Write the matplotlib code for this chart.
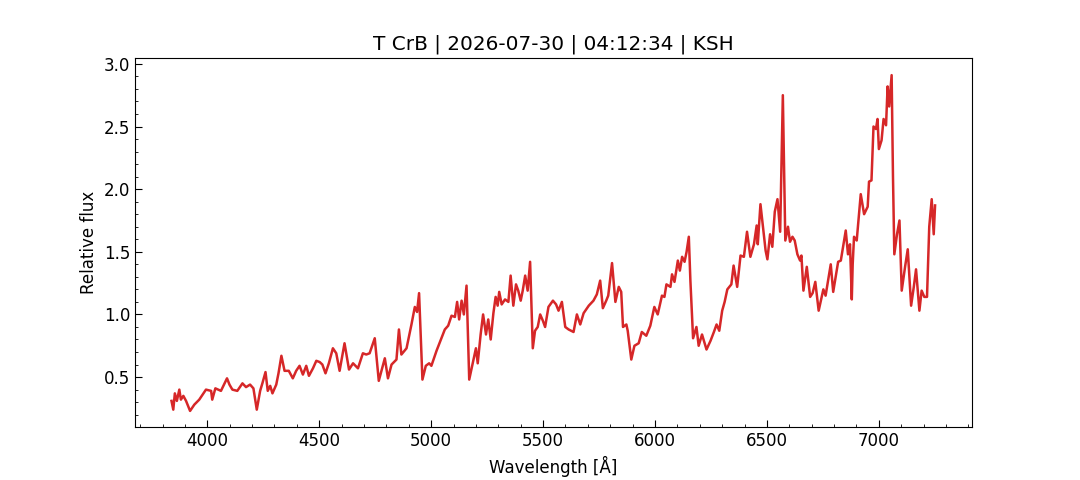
import matplotlib
matplotlib.use("Agg")
import matplotlib.pyplot as plt
from matplotlib.ticker import MultipleLocator

# Spectrum (wavelength in Angstrom, relative flux)
wavelength = [
    3840, 3848, 3855, 3864, 3875, 3882, 3893, 3905, 3923, 3942,
    3964, 3994, 4017, 4022, 4036, 4061, 4088, 4099, 4112, 4134,
    4157, 4173, 4191, 4206, 4221, 4236, 4246, 4260, 4270, 4281,
    4291, 4308, 4318, 4331, 4345, 4364, 4382, 4397, 4412, 4427,
    4442, 4454, 4472, 4487, 4502, 4514, 4528, 4543, 4561, 4576,
    4591, 4613, 4633, 4651, 4673, 4695, 4710, 4725, 4748, 4766,
    4778, 4793, 4807, 4823, 4845, 4856, 4867, 4890, 4912, 4927,
    4937, 4946, 4961, 4976, 4991, 5001, 5024, 5046, 5061, 5076,
    5091, 5106, 5116, 5125, 5136, 5146, 5158, 5170, 5188, 5200,
    5208, 5221, 5232, 5245, 5255, 5266, 5278, 5288, 5297, 5304,
    5315, 5330, 5345, 5355, 5367, 5379, 5389, 5400, 5409, 5420,
    5431, 5442, 5454, 5464, 5476, 5487, 5499, 5509, 5524, 5544,
    5558, 5569, 5584, 5599, 5614, 5636, 5651, 5666, 5681, 5704,
    5725, 5740, 5755, 5767, 5782, 5791, 5808, 5823, 5838, 5849,
    5857, 5872, 5878, 5894, 5908, 5927, 5941, 5961, 5979, 5997,
    6012, 6031, 6042, 6051, 6069, 6076, 6087, 6102, 6111, 6121,
    6132, 6141, 6151, 6158, 6170, 6185, 6195, 6210, 6230, 6248,
    6263, 6275, 6287, 6300, 6311, 6323, 6341, 6351, 6367, 6382,
    6397, 6411, 6426, 6442, 6454, 6459, 6471, 6479, 6494, 6502,
    6514, 6524, 6535, 6547, 6559, 6565, 6571, 6577, 6582, 6594,
    6603, 6614, 6624, 6636, 6648, 6654, 6663, 6678, 6693, 6704,
    6716, 6731, 6752, 6762, 6785, 6796, 6818, 6830, 6852, 6862,
    6871, 6876, 6879, 6883, 6889, 6901, 6919, 6934, 6950, 6956,
    6967, 6976, 6987, 6994, 7000, 7012, 7021, 7032, 7039, 7046,
    7057, 7063, 7069, 7081, 7092, 7102, 7117, 7129, 7144, 7156,
    7166, 7181, 7191, 7203, 7215, 7225, 7236, 7245, 7251,
]
flux = [
    0.31, 0.24, 0.37, 0.31, 0.40, 0.32, 0.35, 0.31, 0.23, 0.28,
    0.32, 0.40, 0.39, 0.32, 0.41, 0.39, 0.49, 0.44, 0.40, 0.39,
    0.45, 0.42, 0.44, 0.41, 0.24, 0.39, 0.45, 0.54, 0.39, 0.43,
    0.37, 0.44, 0.53, 0.67, 0.55, 0.55, 0.49, 0.55, 0.59, 0.52,
    0.59, 0.51, 0.57, 0.63, 0.62, 0.60, 0.53, 0.61, 0.73, 0.69,
    0.55, 0.77, 0.56, 0.61, 0.57, 0.69, 0.68, 0.69, 0.81, 0.47,
    0.55, 0.65, 0.49, 0.60, 0.64, 0.88, 0.68, 0.73, 0.92, 1.06,
    1.02, 1.17, 0.48, 0.59, 0.61, 0.59, 0.71, 0.81, 0.88, 0.91,
    0.99, 0.98, 1.10, 0.96, 1.11, 1.00, 1.23, 0.48, 0.63, 0.73,
    0.61, 0.84, 1.00, 0.84, 0.96, 0.80, 1.01, 1.14, 1.07, 1.18,
    1.08, 1.12, 1.10, 1.31, 1.07, 1.24, 1.19, 1.11, 1.19, 1.31,
    1.19, 1.42, 0.73, 0.87, 0.90, 1.00, 0.95, 0.90, 1.06, 1.11,
    1.08, 1.03, 1.10, 0.90, 0.88, 0.86, 1.00, 0.92, 1.01, 1.07,
    1.11, 1.16, 1.27, 1.05, 1.11, 1.15, 1.41, 1.10, 1.22, 1.18,
    0.90, 0.92, 0.87, 0.64, 0.75, 0.77, 0.86, 0.83, 0.91, 1.06,
    1.00, 1.15, 1.14, 1.24, 1.22, 1.32, 1.26, 1.43, 1.35, 1.46,
    1.42, 1.50, 1.62, 1.27, 0.81, 0.90, 0.75, 0.84, 0.72, 0.79,
    0.86, 0.92, 0.87, 1.03, 1.10, 1.20, 1.24, 1.39, 1.22, 1.47,
    1.46, 1.66, 1.46, 1.56, 1.71, 1.56, 1.88, 1.75, 1.51, 1.44,
    1.64, 1.54, 1.82, 1.92, 1.66, 2.20, 2.75, 2.10, 1.59, 1.70,
    1.58, 1.62, 1.59, 1.48, 1.43, 1.47, 1.19, 1.38, 1.14, 1.17,
    1.26, 1.03, 1.20, 1.15, 1.40, 1.18, 1.42, 1.43, 1.67, 1.48,
    1.56, 1.30, 1.12, 1.40, 1.62, 1.59, 1.96, 1.80, 1.86, 2.06,
    2.07, 2.50, 2.48, 2.56, 2.32, 2.39, 2.56, 2.51, 2.82, 2.66,
    2.91, 2.10, 1.48, 1.64, 1.75, 1.19, 1.38, 1.52, 1.07, 1.22,
    1.36, 1.03, 1.19, 1.14, 1.14, 1.70, 1.92, 1.64, 1.87,
]

title = "T CrB | 2026-07-30 | 04:12:34 | KSH"

fig, ax = plt.subplots(figsize=(10.8, 4.8), dpi=100)
ax.plot(wavelength, flux, color="#d62728", linewidth=1.8)

ax.set_xlim(3677, 7416)
ax.set_ylim(0.1, 3.05)
ax.xaxis.set_major_locator(MultipleLocator(500))
ax.xaxis.set_minor_locator(MultipleLocator(100))
ax.yaxis.set_major_locator(MultipleLocator(0.5))
ax.yaxis.set_minor_locator(MultipleLocator(0.1))
ax.tick_params(which="both", direction="in", labelsize=12)
ax.tick_params(which="major", length=5)
ax.tick_params(which="minor", length=2.5)

ax.set_xlabel("Wavelength [Å]", fontsize=12)
ax.set_ylabel("Relative flux", fontsize=12)
ax.set_title(title, fontsize=14.4)

fig.savefig("out.png", dpi=100)
